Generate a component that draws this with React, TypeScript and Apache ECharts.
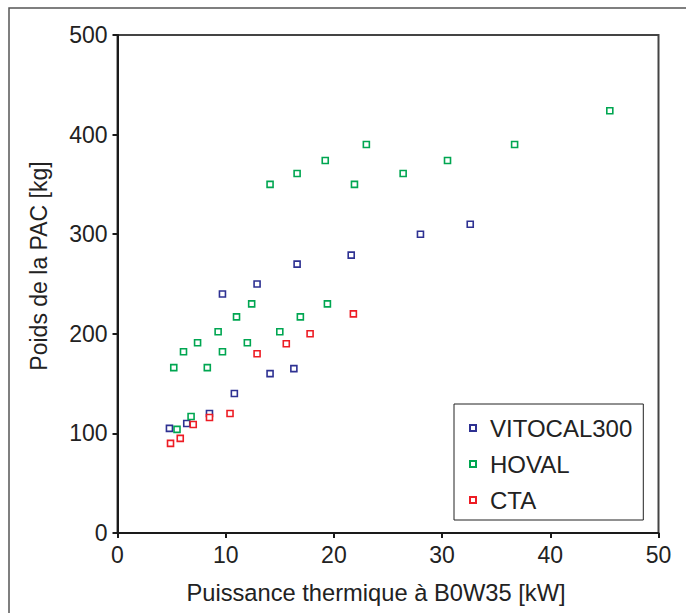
import React, { useEffect, useRef } from "react";
import * as echarts from "echarts";

const FONT = "'Liberation Sans', Arial, Helvetica, sans-serif";

const seriesNames = ["VITOCAL300", "HOVAL", "CTA"];
const seriesColors = ["#2e3192", "#00a651", "#ed1c24"];

const vitocalX = [4.8, 6.4, 8.5, 9.7, 10.8, 12.9, 14.1, 16.3, 16.6, 21.6, 28.0, 32.6];
const vitocalY = [105, 110, 120, 240, 140, 250, 160, 165, 270, 279, 300, 310];

const hovalX = [5.2, 5.5, 6.1, 6.8, 7.4, 8.3, 9.3, 9.7, 11.0, 12.0, 12.4, 14.1, 15.0, 16.6, 16.9, 19.2, 19.4, 21.9, 23.0, 26.4, 30.5, 36.7, 45.5];
const hovalY = [166, 104, 182, 117, 191, 166, 202, 182, 217, 191, 230, 350, 202, 361, 217, 374, 230, 350, 390, 361, 374, 390, 424];

const ctaX = [4.9, 5.8, 7.0, 8.5, 10.4, 12.9, 15.6, 17.8, 21.8];
const ctaY = [90, 95, 109, 116, 120, 180, 190, 200, 220];

const xTicks = [0, 10, 20, 30, 40, 50];
const yTicks = [0, 100, 200, 300, 400, 500];

const xTitle = "Puissance thermique à B0W35 [kW]";
const yTitle = "Poids de la PAC [kg]";

function zip(xs: number[], ys: number[]) {
  return xs.map((x, i) => [x, ys[i]]);
}

export default function App() {
  const ref = useRef<HTMLDivElement>(null);
  useEffect(() => {
    if (!ref.current) return;
    const chart = echarts.init(ref.current, undefined, { renderer: "svg" });
    const datasets = [zip(vitocalX, vitocalY), zip(hovalX, hovalY), zip(ctaX, ctaY)];
    chart.setOption({
      animation: false,
      backgroundColor: "#ffffff",
      textStyle: { fontFamily: FONT },
      grid: {
        left: 117.5,
        top: 35,
        right: 27.5,
        bottom: 80,
        show: true,
        borderColor: "#444",
        borderWidth: 2,
        backgroundColor: "transparent",
      },
      xAxis: {
        type: "value",
        min: xTicks[0],
        max: xTicks[xTicks.length - 1],
        interval: 10,
        splitLine: { show: false },
        axisLine: { show: true, onZero: false, lineStyle: { color: "#1a1a1a", width: 2 } },
        axisTick: { show: true, inside: false, length: 5, lineStyle: { color: "#1a1a1a", width: 2 } },
        axisLabel: { color: "#222", fontSize: 23, fontFamily: FONT, margin: 10 },
      },
      yAxis: {
        type: "value",
        min: yTicks[0],
        max: yTicks[yTicks.length - 1],
        interval: 100,
        splitLine: { show: false },
        axisLine: { show: true, onZero: false, lineStyle: { color: "#1a1a1a", width: 2 } },
        axisTick: { show: true, inside: false, length: 5, lineStyle: { color: "#1a1a1a", width: 2 } },
        axisLabel: { color: "#222", fontSize: 23, fontFamily: FONT, margin: 10 },
      },
      legend: {
        orient: "vertical",
        left: 454,
        top: 404,
        padding: [12, 11, 8, 15],
        itemGap: 12,
        itemWidth: 6,
        itemHeight: 6,
        borderColor: "#222",
        borderWidth: 1,
        backgroundColor: "#fff",
        textStyle: { fontSize: 24, color: "#222", fontFamily: FONT, padding: [0, 0, 0, 9] },
        data: seriesNames.map((n) => ({ name: n, icon: "rect" })),
      },
      series: seriesNames.map((name, i) => ({
        name,
        type: "scatter",
        symbol: "rect",
        symbolSize: 6,
        data: datasets[i],
        itemStyle: { color: "#ffffff", borderColor: seriesColors[i], borderWidth: 1.6, opacity: 1 },
        emphasis: { disabled: true },
      })),
      graphic: [
        {
          type: "rect",
          shape: { x: 9, y: 8, width: 760, height: 700 },
          style: { fill: "none", stroke: "#555", lineWidth: 1.5 },
          silent: true,
        },
        {
          type: "text",
          x: 376,
          y: 593,
          style: {
            text: xTitle,
            fontSize: 23.7,
            fontFamily: FONT,
            fill: "#222",
            align: "center",
            verticalAlign: "middle",
          },
        },
        {
          type: "text",
          x: 39,
          y: 266,
          rotation: Math.PI / 2,
          style: {
            text: yTitle,
            fontSize: 23,
            fontFamily: FONT,
            fill: "#222",
            align: "center",
            verticalAlign: "middle",
          },
        },
      ],
    });
    return () => chart.dispose();
  }, []);
  return (
    <div
      ref={ref}
      style={{ position: "fixed", left: 0, top: 0, width: 686, height: 613 }}
    />
  );
}
